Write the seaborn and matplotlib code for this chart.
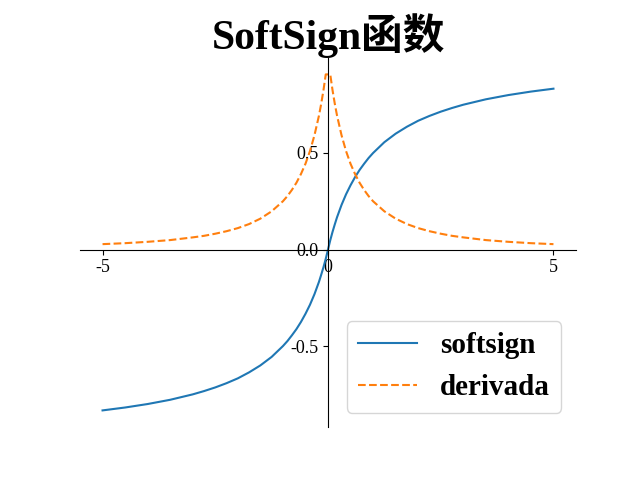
import numpy as np
import pandas as pd
import matplotlib
matplotlib.use("Agg")
import matplotlib.pyplot as plt
import seaborn as sns

# values
x_vals = [-5, -4.5, -4, -3.5, -3, -2.75, -2.5, -2.25, -2, -1.75, -1.5, -1.25, -1,
          -0.9, -0.8, -0.7, -0.6, -0.5, -0.4, -0.3, -0.2, -0.15, -0.1, -0.05,
          0.05, 0.1, 0.15, 0.2, 0.3, 0.4, 0.5, 0.6, 0.7, 0.8, 0.9,
          1, 1.25, 1.5, 1.75, 2, 2.25, 2.5, 2.75, 3, 3.5, 4, 4.5, 5]
softsign_vals = [-0.833, -0.818, -0.800, -0.778, -0.750, -0.733, -0.714, -0.692, -0.667,
                 -0.636, -0.600, -0.556, -0.500, -0.474, -0.444, -0.412, -0.375, -0.333,
                 -0.286, -0.231, -0.167, -0.130, -0.091, -0.048,
                 0.048, 0.091, 0.130, 0.167, 0.231, 0.286, 0.333, 0.375, 0.412, 0.444,
                 0.474, 0.500, 0.556, 0.600, 0.636, 0.667, 0.692, 0.714, 0.733, 0.750,
                 0.778, 0.800, 0.818, 0.833]
deriv_vals = [0.028, 0.033, 0.040, 0.049, 0.063, 0.071, 0.082, 0.095, 0.111, 0.132,
              0.160, 0.198, 0.250, 0.277, 0.309, 0.346, 0.391, 0.444, 0.510, 0.592,
              0.694, 0.756, 0.826, 0.907,
              0.907, 0.826, 0.756, 0.694, 0.592, 0.510, 0.444, 0.391, 0.346, 0.309,
              0.277, 0.250, 0.198, 0.160, 0.132, 0.111, 0.095, 0.082, 0.071, 0.063,
              0.049, 0.040, 0.033, 0.028]
x_ticks = [-5, 0, 5]
y_ticks = [-0.5, 0.0, 0.5]

df = pd.DataFrame({"x": x_vals, "softsign": softsign_vals, "derivada": deriv_vals})

plt.rcParams['font.family'] = ['Liberation Serif', 'Noto Sans CJK SC']
plt.rcParams['axes.unicode_minus'] = False

fig, ax = plt.subplots(figsize=(6.4, 4.8), dpi=100)
sns.lineplot(data=df, x="x", y="softsign", ax=ax, color="#1f77b4", label="softsign")
sns.lineplot(data=df, x="x", y="derivada", ax=ax, color="#ff7f0e", linestyle="--", label="derivada")

# move spines to the origin
ax.spines['top'].set_visible(False)
ax.spines['right'].set_visible(False)
ax.spines['left'].set_position(('data', 0))
ax.spines['bottom'].set_position(('data', 0))

ax.set_xticks(x_ticks)
ax.set_xticklabels([str(t) for t in x_ticks])
ax.set_yticks(y_ticks)
ax.set_yticklabels(["-0.5", "0.0", "0.5"])
ax.tick_params(labelsize=13)
ax.set_xlabel("")
ax.set_ylabel("")

ax.set_title("SoftSign函数", fontsize=30, fontweight="bold")
ax.legend(loc="lower right", prop={"size": 21, "weight": "bold"})

plt.savefig("out.png", dpi=100)
